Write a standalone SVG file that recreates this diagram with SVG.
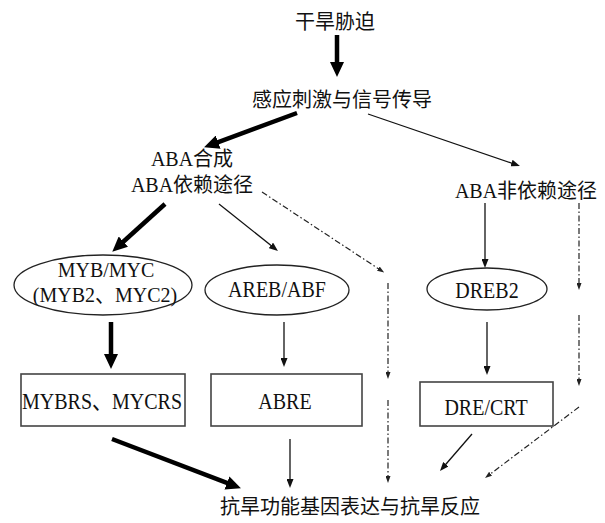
<svg xmlns="http://www.w3.org/2000/svg" width="605" height="523" viewBox="0 0 605 523">
  <style>
    .cn { font-family: "Liberation Serif", "Noto Sans CJK SC", serif; font-size: 20px; fill: #111; text-anchor: middle; }
    .node-shape { fill: #fff; stroke: #222; stroke-width: 1.3; }
    .box { fill: #fff; stroke: #444; stroke-width: 1.6; }
    .thick { stroke: #000; stroke-width: 4.5; fill: none; marker-end: url(#head-thick); }
    .thin { stroke: #111; stroke-width: 1.3; fill: none; marker-end: url(#head-thin); }
    .dashdot { stroke: #222; stroke-width: 1.2; fill: none; stroke-dasharray: 6 2.5 1.5 2.5; marker-end: url(#head-dash); }
  </style>
  <defs>
    <marker id="head-thick" markerUnits="userSpaceOnUse" markerWidth="15" markerHeight="14" refX="2" refY="7" orient="auto">
      <path d="M0,0 L15,7 L0,14 z" fill="#000"/>
    </marker>
    <marker id="head-thin" markerUnits="userSpaceOnUse" markerWidth="9" markerHeight="7" refX="1" refY="3.5" orient="auto">
      <path d="M0,0 L9,3.5 L0,7 z" fill="#111"/>
    </marker>
    <marker id="head-dash" markerUnits="userSpaceOnUse" markerWidth="7" markerHeight="5" refX="1" refY="2.5" orient="auto">
      <path d="M0,0 L7,2.5 L0,5 z" fill="#222"/>
    </marker>
  </defs>
  <rect width="605" height="523" fill="#fff"/>

  <!-- nodes -->
  <g id="drought">
    <text class="cn" x="335" y="29">干旱胁迫</text>
  </g>
  <g id="signal">
    <text class="cn" x="342" y="107">感应刺激与信号传导</text>
  </g>
  <g id="aba-dependent">
    <text class="cn" x="192" y="166">ABA合成</text>
    <text class="cn" x="192" y="192">ABA依赖途径</text>
  </g>
  <g id="aba-independent">
    <text class="cn" x="526" y="198">ABA非依赖途径</text>
  </g>
  <!-- Latin labels are stretched slightly in height -->
  <g id="myb-myc">
    <ellipse class="node-shape" cx="103" cy="285" rx="89" ry="30"/>
    <text class="cn" transform="translate(106,277) scale(1,1.1)">MYB/MYC</text>
    <text class="cn" transform="translate(105,302) scale(1,1.1)">(MYB2、MYC2)</text>
  </g>
  <g id="areb-abf">
    <ellipse class="node-shape" cx="277" cy="290" rx="72" ry="25"/>
    <text class="cn" transform="translate(277,297) scale(1,1.15)">AREB/ABF</text>
  </g>
  <g id="dreb2">
    <ellipse class="node-shape" cx="487" cy="289" rx="60" ry="21"/>
    <text class="cn" transform="translate(487,298) scale(1,1.15)">DREB2</text>
  </g>
  <g id="mybrs-mycrs">
    <rect class="box" x="21" y="374" width="164" height="52"/>
    <text class="cn" transform="translate(102,409) scale(1,1.15)">MYBRS、MYCRS</text>
  </g>
  <g id="abre">
    <rect class="box" x="211" y="374" width="151" height="52"/>
    <text class="cn" transform="translate(285,409) scale(1,1.15)">ABRE</text>
  </g>
  <g id="dre-crt">
    <rect class="box" x="420" y="382" width="133" height="44"/>
    <text class="cn" transform="translate(486,415) scale(1,1.15)">DRE/CRT</text>
  </g>
  <g id="response">
    <text class="cn" x="350" y="514">抗旱功能基因表达与抗旱反应</text>
  </g>

  <!-- connectors -->
  <g id="connectors">
    <line class="thick" x1="337" y1="35" x2="337" y2="64"/>
    <line class="thick" x1="297" y1="113" x2="216.3" y2="142.8"/>
    <line class="thick" x1="165" y1="204" x2="121.9" y2="243"/>
    <line class="thick" x1="111" y1="322" x2="111" y2="356"/>
    <line class="thick" x1="112" y1="439" x2="228.8" y2="483.7"/>

    <line class="thin" x1="368" y1="114" x2="512.4" y2="163.4"/>
    <line class="thin" x1="219" y1="204" x2="271.7" y2="246"/>
    <line class="thin" x1="284" y1="322" x2="284" y2="359"/>
    <line class="thin" x1="485" y1="203" x2="485" y2="260"/>
    <line class="thin" x1="487" y1="322" x2="487" y2="367"/>
    <line class="thin" x1="290" y1="439" x2="290" y2="480"/>
    <line class="thin" x1="472" y1="434" x2="445.2" y2="465"/>

    <line class="dashdot" x1="262" y1="192" x2="379.2" y2="269.2"/>
    <line class="dashdot" x1="388" y1="283" x2="388" y2="373"/>
    <line class="dashdot" x1="388" y1="400" x2="388" y2="477"/>
    <line class="dashdot" x1="579" y1="203" x2="579" y2="284"/>
    <line class="dashdot" x1="579" y1="315" x2="579" y2="380"/>
    <line class="dashdot" x1="579" y1="407" x2="489.8" y2="474.4"/>
  </g>
</svg>
